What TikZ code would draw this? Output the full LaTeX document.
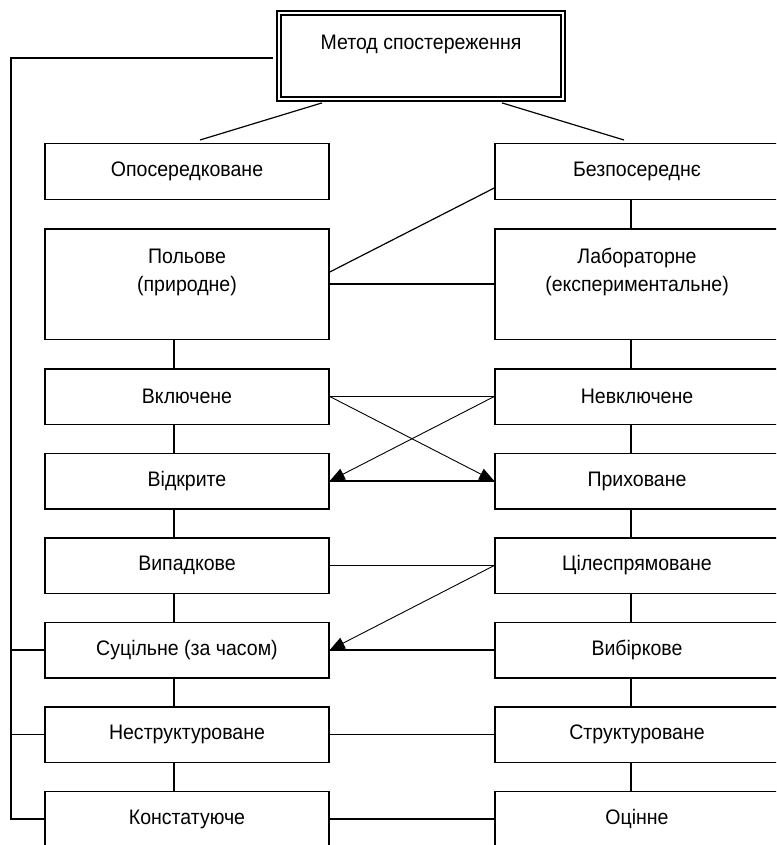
\documentclass[tikz,border=0pt]{standalone}
\usepackage{fontspec}
\setmainfont{Liberation Sans}[FakeStretch=0.93]
\usetikzlibrary{arrows.meta}

\begin{document}
\begin{tikzpicture}[x=1pt, y=-1pt,
        box/.style = {draw, line width=1.5pt, minimum width=284pt, minimum height=55.5pt,
            inner sep=0pt, align=center, font=\fontsize{21}{28}\selectfont},
        tall/.style = {box, minimum height=110.5pt},
        link/.style = {line width=1.2pt},
        tip/.style = {line width=0.9pt, -{Triangle[length=15pt, width=12pt]}}
    ]
    \useasboundingbox (0,0) rectangle (776,845);
    \clip (0,0) rectangle (776,845);
    % head
    \node[box, double, line width=1.8pt, double distance=2.5pt, minimum height=86pt] (mt) at (421,56)
        {Метод спостереження\\\mbox{}};
    \node[box] (op) at (187,171.5) {Опосередковане};
    \node[box] (bz) at (637,171.5) {Безпосереднє};
    \node[tall] (pl) at (187,284) {Польове\\(природне)\\\mbox{}};
    \node[tall] (lb) at (637,284) {Лабораторне\\(експериментальне)\\\mbox{}};
    \foreach \lname/\rname [count=\i] in {Включене/Невключене, Відкрите/Приховане,
            Випадкове/Цілеспрямоване, Суцільне (за часом)/Вибіркове,
            Неструктуроване/Структуроване, Констатуюче/Оцінне} {
        \node[box] (l\i) at (187, 312+84.5*\i) {\lname};
        \node[box] (r\i) at (637, 312+84.5*\i) {\rname};
        \draw[link] (l\i.east) -- (r\i.west);
    }
    % columns
    \draw[link] ([xshift=-13pt]pl.south) -- ([xshift=-13pt]l1.north);
    \draw[link] ([xshift=-6pt]bz.south) -- ([xshift=-6pt]lb.north);
    \draw[link] ([xshift=-6pt]lb.south) -- ([xshift=-6pt]r1.north);
    \foreach \i in {1,...,5} {
        \pgfmathtruncatemacro\j{\i+1}
        \draw[link] ([xshift=-13pt]l\i.south) -- ([xshift=-13pt]l\j.north);
        \draw[link] ([xshift=-6pt]r\i.south) -- ([xshift=-6pt]r\j.north);
    }
    % links between columns
    \draw[link] ([xshift=-99pt, yshift=-3pt]mt.south) -- ([xshift=13pt, yshift=3pt]op.north);
    \draw[link] ([xshift=81pt, yshift=-3pt]mt.south) -- ([xshift=-13pt, yshift=3pt]bz.north);
    \draw[link] ([yshift=-16.5pt]bz.west) -- ([yshift=12pt]pl.east);
    \draw[link] (pl.east) -- (lb.west);
    \draw[tip] (l1.east) -- (r2.west);
    \draw[tip] (r1.west) -- (l2.east);
    \draw[tip] (r3.west) -- (l4.east);
    % left bus
    \coordinate (bus) at (11,58);
    \draw[link, shorten <=5pt] ([yshift=-2pt]mt.west) -- (bus) |- (l6.west);
    \draw[link] (bus |- l4.west) -- (l4.west);
    \draw[link] (bus |- l5.west) -- (l5.west);
\end{tikzpicture}
\end{document}
